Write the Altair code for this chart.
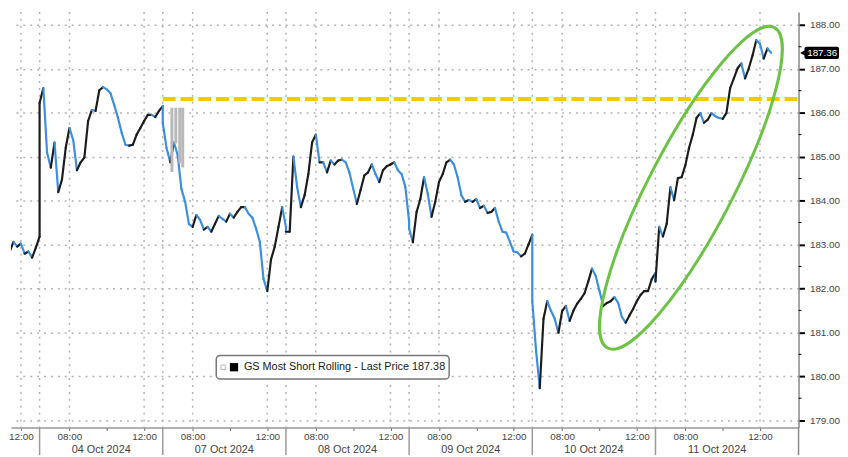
import altair as alt
import pandas as pd

# ---------------- data ----------------
SESSION = 6.6          # session length in hours (axis unit)
STEP = 0.2             # sampling step in hours
day_names = ["03 Oct 2024", "04 Oct 2024", "07 Oct 2024", "08 Oct 2024",
             "09 Oct 2024", "10 Oct 2024", "11 Oct 2024"]
day_first_sample = [4.8, 0, 0, 0, 0, 0, 0]   # hours into the session of first sample

p_03oct = [182.61, 182.84, 183.06, 182.95, 183.02, 182.79, 182.84, 182.70, 182.93, 183.18]
p_04oct = [186.22, 186.56, 185.09, 184.75, 185.32, 184.19, 184.48, 185.20, 185.65, 185.38,
           184.69, 184.87, 184.98, 185.81, 186.06, 186.04, 186.51, 186.58, 186.53, 186.44,
           186.17, 185.88, 185.54, 185.27, 185.25, 185.27, 185.50, 185.65, 185.81, 185.95,
           185.95, 185.90, 186.04, 186.15]
p_07oct = [185.77, 185.20, 184.87, 185.32, 185.03, 184.26, 183.97, 183.47, 183.40, 183.67,
           183.56, 183.34, 183.40, 183.29, 183.47, 183.65, 183.58, 183.52, 183.70, 183.61,
           183.74, 183.85, 183.85, 183.70, 183.61, 183.36, 183.06, 182.21, 181.94, 182.66,
           182.95, 183.40, 183.85, 183.40]
p_08oct = [183.29, 183.29, 185.00, 184.30, 183.85, 184.12, 184.60, 185.32, 185.50, 184.87,
           184.87, 184.64, 184.91, 184.82, 184.91, 184.93, 184.87, 184.64, 184.28, 183.92,
           184.24, 184.57, 184.64, 184.82, 184.60, 184.42, 184.69, 184.78, 184.82, 184.87,
           184.69, 184.60, 184.30, 183.52]
p_09oct = [183.36, 183.05, 183.74, 184.03, 184.53, 184.15, 183.63, 183.97, 184.42, 184.60,
           184.87, 184.93, 184.82, 184.53, 184.12, 183.97, 184.01, 183.97, 184.03, 183.83,
           183.88, 183.72, 183.74, 183.83, 183.52, 183.29, 183.27, 183.06, 182.84, 182.82,
           182.73, 182.79, 183.00, 183.22]
p_10oct = [181.71, 180.59, 179.73, 181.31, 181.71, 181.49, 181.31, 180.99, 181.49, 181.60,
           181.26, 181.49, 181.65, 181.76, 181.89, 182.16, 182.45, 182.28, 181.94, 181.60,
           181.67, 181.71, 181.80, 181.67, 181.35, 181.22, 181.38, 181.53, 181.71, 181.85,
           181.94, 181.94, 182.21, 182.35]
p_11oct = [182.16, 183.40, 183.18, 183.47, 184.30, 184.01, 184.51, 184.53, 184.80, 185.20,
           185.50, 185.88, 185.99, 185.77, 185.84, 185.99, 185.92, 185.88, 185.86, 185.99,
           186.56, 186.78, 187.01, 187.12, 186.78, 187.01, 187.30, 187.65, 187.57, 187.23,
           187.46, 187.36]
day_prices = [p_03oct, p_04oct, p_07oct, p_08oct, p_09oct, p_10oct, p_11oct]

# light grey spikes just after the 07 Oct open (hours into session, high, low)
grey_hours = [0.49, 0.70, 0.91, 1.07]
grey_high = [186.11, 186.11, 186.11, 186.11]
grey_low = [184.65, 185.30, 184.85, 184.75]

level_price = 186.31          # yellow dashed resistance line
level_from_day = 2            # starts at 07 Oct open

last_price_tag = "187.36"
last_price = 187.36
legend_label = "GS Most Short Rolling - Last Price 187.38"

tick_names = ["08:00", "10:00", "12:00"]
tick_hours = [1.6, 3.6, 5.6]
y_ticks = [179, 180, 181, 182, 183, 184, 185, 186, 187, 188]
y_minor = [179.5, 180.5, 181.5, 182.5, 183.5, 184.5, 185.5, 186.5, 187.5]

# green ellipse annotation (centre in 11 Oct session hours / price)
ell_day, ell_hour, ell_price = 6, 1.9, 184.29

# ---------------- build tables ----------------
rows = []
for d, (start, plist) in enumerate(zip(day_first_sample, day_prices)):
    for i, p in enumerate(plist):
        rows.append({"t": d * SESSION + start + i * STEP, "p": p})
series = pd.DataFrame(rows)
seg = pd.DataFrame({
    "t": series["t"].values[:-1], "p": series["p"].values[:-1],
    "t2": series["t"].values[1:], "p2": series["p"].values[1:],
})
seg["dir"] = ["up" if b >= a else "down" for a, b in zip(seg["p"], seg["p2"])]

X0, X1 = 5.066, 47.266
Y0, Y1 = 178.836, 188.292
W, H = 798, 421

xs = alt.Scale(domain=[X0, X1], nice=False, zero=False)
ys = alt.Scale(domain=[Y0, Y1], nice=False, zero=False)

axis_vals = []
vgrid = []
for d in range(len(day_names)):
    for h in tick_hours:
        v = round(d * SESSION + h, 4)
        if X0 <= v <= X1:
            axis_vals.append(v)
            if h != 3.6:
                vgrid.append(v)
    if d > 0:
        vgrid.append(round(d * SESSION, 4))
vgrid_df = pd.DataFrame({"t": vgrid})
sep_df = pd.DataFrame({"t": [d * SESSION for d in range(1, len(day_names))]})
daylab_df = pd.DataFrame({"t": [d * SESSION + SESSION / 2 for d in range(1, len(day_names))],
                          "label": day_names[1:]})
grey_df = pd.DataFrame({"t": [level_from_day * SESSION + h for h in grey_hours],
                        "hi": grey_high, "lo": grey_low})
level_df = pd.DataFrame({"t": [level_from_day * SESSION], "p": [level_price]})
ell_df = pd.DataFrame({"t": [ell_day * SESSION + ell_hour], "p": [ell_price]})
tag_df = pd.DataFrame({"p": [last_price], "label": [last_price_tag]})
minor_df = pd.DataFrame({"p": y_minor})
one = pd.DataFrame({"label": [legend_label]})

FONT = "Liberation Sans"
label_expr = ("((datum.value % 6.6) < 2.6) ? '08:00' : "
              "(((datum.value % 6.6) < 4.6) ? '' : '12:00')")

x_axis = alt.Axis(values=axis_vals, labelExpr=label_expr, grid=False, title=None,
                  tickSize=3, tickColor="#666", tickWidth=1,
                  labelFontSize=10, labelFont=FONT, labelColor="#444",
                  labelPadding=1, domainColor="#999", domainWidth=1.5,
                  labelFlush=False, labelOverlap=False)
y_axis = alt.Axis(orient="right", values=y_ticks, format=".2f", grid=True, title=None,
                  gridDash=[2, 5], gridColor="#b3b3b3", gridWidth=1.5,
                  tickColor="#000", tickSize=6, tickWidth=2, labelPadding=5,
                  labelFontSize=10, labelFont=FONT, labelColor="#444",
                  domainColor="#888", domainWidth=1.5, labelFlush=False)


def X(field):
    return alt.X(field, scale=xs, axis=x_axis, title=None)


def Y(field):
    return alt.Y(field, scale=ys, axis=y_axis, title=None)


vgrid_layer = alt.Chart(vgrid_df).mark_rule(color="#b3b3b3", strokeWidth=1.5,
                                            strokeDash=[2, 5]).encode(x=X("t:Q"))

main = alt.Chart(seg).mark_rule(strokeWidth=2.2, clip=True, strokeCap="round").encode(
    x=X("t:Q"), x2="t2:Q", y=Y("p:Q"), y2="p2:Q",
    color=alt.Color("dir:N", scale=alt.Scale(domain=["up", "down"],
                                             range=["#1c1c1c", "#3b8fe0"]), legend=None),
)

grey_layer = alt.Chart(grey_df).mark_rule(color="#b8b8b8", strokeWidth=3, clip=True).encode(
    x=X("t:Q"), y=Y("hi:Q"), y2="lo:Q")

level_layer = alt.Chart(level_df).mark_rule(color="#f6c800", strokeWidth=4,
                                            strokeDash=[13, 5]).encode(
    x=X("t:Q"), x2=alt.value(W), y=Y("p:Q"))

ellipse_path = "M 0 -1 A 0.232 1 0 1 1 0 1 A 0.232 1 0 1 1 0 -1 Z"
ellipse = alt.Chart(ell_df).mark_point(shape=ellipse_path, size=133956, angle=27.5,
                                       filled=False, stroke="#6cc245", strokeWidth=3,
                                       opacity=1).encode(x=X("t:Q"), y=Y("p:Q"))

minor_ticks = alt.Chart(minor_df).mark_rule(color="#000", strokeWidth=1).encode(
    x=alt.value(W), x2=alt.value(W + 3), y=Y("p:Q"))

leg_box = alt.Chart(one).mark_rect(fill="white", stroke="#777", strokeWidth=1.5,
                                   cornerRadius=4).encode(
    x=alt.value(208), x2=alt.value(444), y=alt.value(348), y2=alt.value(372))
leg_icon1 = alt.Chart(one).mark_point(shape="square", filled=False, stroke="#999",
                                      size=20, strokeWidth=1).encode(
    x=alt.value(215), y=alt.value(360))
leg_icon2 = alt.Chart(one).mark_point(shape="square", filled=True, color="#000",
                                      size=70, opacity=1).encode(
    x=alt.value(226), y=alt.value(360))
leg_text = alt.Chart(one).mark_text(align="left", baseline="middle", fontSize=11,
                                    font=FONT, color="#222").encode(
    x=alt.value(236), y=alt.value(360), text="label:N")

tag_box = alt.Chart(tag_df).transform_calculate(
    lo="datum.p - 0.14", hi="datum.p + 0.14").mark_rect(fill="#000", cornerRadius=2).encode(
    x=alt.value(804), x2=alt.value(839), y=Y("lo:Q"), y2="hi:Q")
tag_arrow = alt.Chart(tag_df).mark_point(shape="triangle-left", filled=True, color="#000",
                                         size=30, opacity=1).encode(
    x=alt.value(802), y=Y("p:Q"))
tag_text = alt.Chart(tag_df).mark_text(fontSize=10, font=FONT, color="white",
                                       baseline="middle", align="center").encode(
    x=alt.value(822), y=Y("p:Q"), text="label:N")

sep_layer = alt.Chart(sep_df).mark_rule(color="#9a9a9a", strokeWidth=1.5).encode(
    x=X("t:Q"), y=alt.value(H), y2=alt.value(H + 28))
right_ext = alt.Chart(one).mark_rule(color="#888", strokeWidth=1.5).encode(
    x=alt.value(W), y=alt.value(H), y2=alt.value(H + 28))
day_text = alt.Chart(daylab_df).mark_text(fontSize=11, font=FONT, color="#444",
                                          baseline="middle").encode(
    x=X("t:Q"), y=alt.value(H + 23), text="label:N")

chart = alt.layer(
    vgrid_layer, main, grey_layer, level_layer, ellipse, minor_ticks,
    leg_box, leg_icon1, leg_icon2, leg_text, tag_box, tag_arrow, tag_text,
    sep_layer, right_ext, day_text,
).properties(width=W, height=H, padding=0, background="white").configure_view(stroke=None)

chart.save("out.html", embed_options={"renderer": "svg", "actions": False})
